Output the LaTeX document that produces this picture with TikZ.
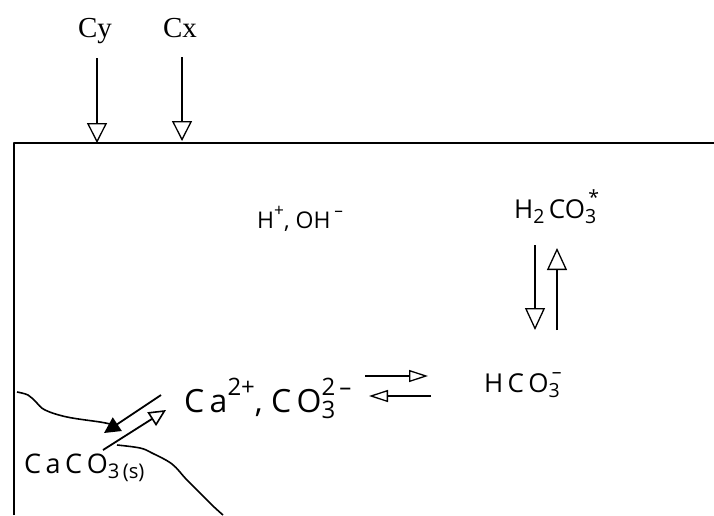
\documentclass[tikz,border=0pt]{standalone}
\usepackage{fontspec}
\usepackage{graphicx}
\setmainfont{Liberation Serif}
\newfontfamily\handfont{Open Sans}
\usetikzlibrary{arrows.meta}
\newcommand\hsup[1]{\raisebox{0.95ex}{\scalebox{0.75}{#1}}}
\newcommand\hsub[1]{\raisebox{-0.4ex}{\scalebox{0.75}{#1}}}
\newcommand\ssup[2]{\makebox[0pt][l]{\hsup{#1}}\hsub{#2}}
\begin{document}
\begin{tikzpicture}[x=1pt,y=-1pt,line join=round,
  box/.style={line width=2pt},
  serifl/.style={inner sep=0pt,font=\fontsize{29}{32}\selectfont},
  hand/.style={inner sep=0pt,anchor=base west},
  flow/.style={line width=1.3pt,-{Triangle[open,length=20pt,width=20pt,line width=1.3pt]}},
  hflow/.style={line width=1.3pt,-{Triangle[open,length=19pt,width=12pt,line width=1.3pt]}},
  vflow/.style={line width=1.3pt,-{Triangle[open,length=22pt,width=20pt,line width=1.3pt]}},
  dflowa/.style={line width=1.8pt,-{Triangle[length=16pt,width=16pt]}},
  dflowb/.style={line width=1.8pt,-{Triangle[open,length=17pt,width=16pt,line width=1.6pt]}},
  shore/.style={line width=1.6pt}]
\useasboundingbox (0,0) rectangle (714,515);
% water body
\draw[box] (14,515) -- (14,143) -- (714,143);
% inputs
\node[serifl,anchor=base] (cy) at (95,37) {Cy};
\node[serifl,anchor=base] (cx) at (180,37) {Cx};
\coordinate (cyt) at (97,58);
\coordinate (cyb) at (97,143);
\coordinate (cxt) at (182,57);
\coordinate (cxb) at (182,141);
\draw[flow] (cyt) -- (cyb);
\draw[flow] (cxt) -- (cxb);
% species
\node[hand,font=\handfont\fontsize{23}{28}\selectfont] (hoh) at (257,228) {H\hsup{+}, OH\,\hsup{–}};
\node[hand,font=\handfont\fontsize{26}{30}\selectfont] (h2co3) at (514,218) {H\hsub{2}\,CO\ssup{\,*}{3}};
\node[hand,font=\handfont\fontsize{32}{38}\selectfont] (ca) at (184,412) {C\,a\hsup{2+}, C\,O\ssup{2\,–}{3}};
\node[hand,font=\handfont\fontsize{26}{30}\selectfont] (hco3) at (484,392) {H\,C\,O\ssup{\,–}{3}};
\node[hand,font=\handfont\fontsize{27}{30}\selectfont] (caco3) at (24,473) {C\,a\,C\,O\hsub{3\,(s)}};
% vertical equilibrium
\coordinate (d1) at (535,245);
\coordinate (d2) at (535,330);
\coordinate (u1) at (557,330);
\coordinate (u2) at (557,248);
\draw[vflow] (d1) -- (d2);
\draw[vflow] (u1) -- (u2);
% horizontal equilibrium
\coordinate (r1) at (365,376);
\coordinate (r2) at (428,376);
\coordinate (l1) at (431,396);
\coordinate (l2) at (369,396);
\draw[hflow] (r1) -- (r2);
\draw[hflow] (l1) -- (l2);
% sediment interface
\draw[shore] plot[smooth,tension=0.6] coordinates {(17,392) (28,395) (36,402) (45,410) (67,417) (100,422) (110,424)};
\draw[shore] plot[smooth,tension=0.6] coordinates {(117,445) (140,448) (152,453) (172,464) (186,479) (200,493) (213,506) (223,515)};
% dissolution / precipitation
\coordinate (p1) at (161,395);
\coordinate (p2) at (104,433);
\coordinate (q1) at (103,450);
\coordinate (q2) at (166,410);
\draw[dflowa] (p1) -- (p2);
\draw[dflowb] (q1) -- (q2);
\end{tikzpicture}
\end{document}
